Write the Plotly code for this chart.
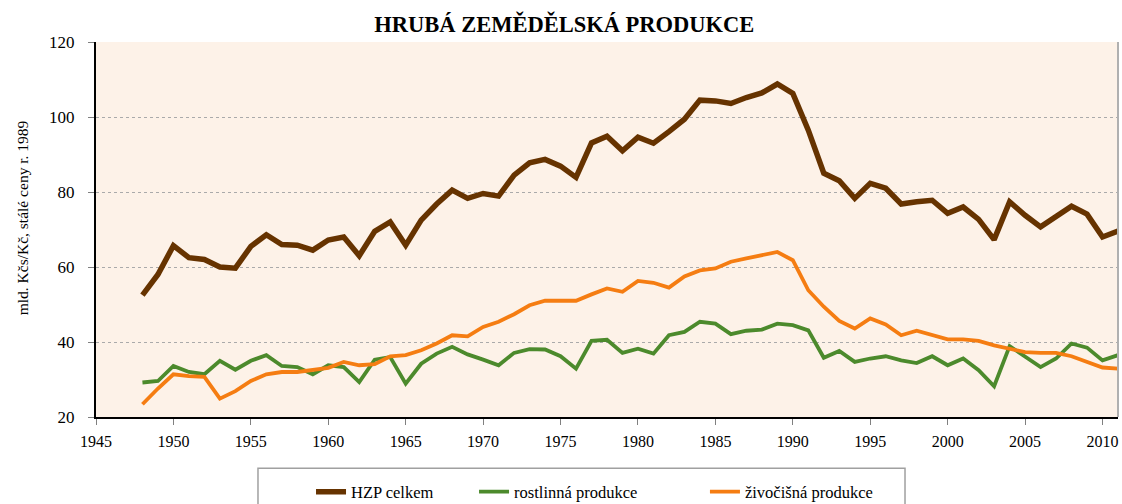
import plotly.graph_objects as go

years = list(range(1948, 2012))

hzp_celkem = [52.5, 58.0, 65.7, 62.5, 62.0, 60.0, 59.7, 65.5, 68.6, 66.0, 65.8, 64.5,
              67.2, 68.0, 63.0, 69.5, 72.0, 65.8, 72.5, 76.8, 80.5, 78.3, 79.6, 78.9,
              84.5, 87.8, 88.7, 86.9, 83.9, 93.1, 94.9, 91.0, 94.6, 93.0, 96.1, 99.4,
              104.5, 104.3, 103.6, 105.2, 106.4, 108.8, 106.3, 96.5, 85.0, 83.0, 78.3, 82.3,
              81.0, 76.8, 77.4, 77.8, 74.3, 76.0, 72.7, 67.3, 77.4, 73.8, 70.7, 73.4,
              76.2, 74.1, 68.0, 69.6]

rostlinna = [29.2, 29.6, 33.6, 32.0, 31.4, 35.0, 32.6, 35.0, 36.5, 33.6, 33.3, 31.4,
             33.8, 33.3, 29.3, 35.3, 36.0, 28.9, 34.2, 36.9, 38.7, 36.7, 35.3, 33.8,
             37.1, 38.1, 38.0, 36.2, 32.9, 40.3, 40.6, 37.1, 38.2, 36.9, 41.8, 42.7,
             45.4, 44.9, 42.1, 43.0, 43.3, 44.9, 44.5, 43.1, 35.8, 37.6, 34.7, 35.6,
             36.2, 35.1, 34.4, 36.2, 33.8, 35.6, 32.5, 28.2, 38.9, 36.2, 33.3, 35.6,
             39.6, 38.5, 35.1, 36.5]

zivocisna = [23.4, 27.6, 31.4, 30.9, 30.7, 24.9, 26.9, 29.6, 31.4, 32.0, 32.0, 32.6,
             33.1, 34.7, 33.8, 34.1, 36.2, 36.5, 37.8, 39.6, 41.8, 41.5, 44.0, 45.4,
             47.4, 49.8, 51.0, 51.0, 51.0, 52.7, 54.3, 53.4, 56.3, 55.8, 54.5, 57.5,
             59.1, 59.6, 61.4, 62.3, 63.2, 64.0, 61.8, 53.8, 49.4, 45.6, 43.6, 46.3,
             44.7, 41.8, 43.0, 41.8, 40.7, 40.7, 40.3, 39.1, 38.3, 37.3, 37.1, 37.1,
             36.2, 34.7, 33.2, 32.9]

series_names = ["HZP celkem", "rostlinná produkce", "živočišná produkce"]
colors = ["#663300", "#4c8a2c", "#f57d12"]
widths = [5.5, 3.8, 3.8]
legend_ids = ["legend", "legend2", "legend3"]
legend_x = [0.2772, 0.4225, 0.6283]

font_family = "Liberation Serif"

fig = go.Figure()
for name, vals, c, w, lg in zip(series_names, [hzp_celkem, rostlinna, zivocisna],
                                colors, widths, legend_ids):
    fig.add_trace(go.Scatter(x=years, y=vals, mode="lines", name=name,
                             line=dict(color=c, width=w), legend=lg))

legend_common = dict(orientation="h", xref="container", yref="container",
                     y=0.024, yanchor="middle", xanchor="left",
                     bgcolor="rgba(0,0,0,0)", borderwidth=0,
                     font=dict(family=font_family, size=16.5, color="#000000"))

fig.update_layout(
    width=1122, height=504,
    margin=dict(l=96, r=4, t=42, b=87.3, autoexpand=False),
    paper_bgcolor="white",
    plot_bgcolor="#fdf2e8",
    font=dict(family=font_family, size=16, color="#000000"),
    title=dict(text="<b>HRUBÁ ZEMĚDĚLSKÁ PRODUKCE</b>", x=0.503, xanchor="center",
               y=0.952, yanchor="middle", font=dict(family=font_family, size=22.5, color="#000000")),
    showlegend=True,
    legend=dict(x=legend_x[0], **legend_common),
    legend2=dict(x=legend_x[1], **legend_common),
    legend3=dict(x=legend_x[2], **legend_common),
    xaxis=dict(range=[1945, 2011], tickmode="linear", tick0=1945, dtick=5,
               showgrid=False, showline=True, linecolor="#000000", linewidth=2,
               ticks="outside", ticklen=6, tickcolor="#808080", zeroline=False,
               ticklabelstandoff=3,
               tickfont=dict(family=font_family, size=16)),
    yaxis=dict(range=[20, 120], tickmode="linear", tick0=20, dtick=20,
               showgrid=True, gridcolor="#aaaaaa", griddash="dot", gridwidth=1,
               showline=True, linecolor="#000000", linewidth=2,
               ticks="outside", ticklen=6, tickcolor="#808080", zeroline=False,
               ticklabelstandoff=10,
               tickfont=dict(family=font_family, size=17)),
    annotations=[dict(text="mld. Kčs/Kč, stálé ceny r. 1989", textangle=-90,
                      xref="paper", yref="paper", x=-0.0724, y=0.53,
                      xanchor="center", yanchor="middle", showarrow=False,
                      font=dict(family=font_family, size=15.5, color="#000000"))],
)

# right border of plot area
fig.add_shape(type="line", xref="paper", yref="paper", x0=1, x1=1, y0=0, y1=1,
              line=dict(color="#b0b0b0", width=2))
# legend frame (continues past the bottom edge)
fig.add_shape(type="rect", xref="paper", yref="paper", x0=0.1585, x1=0.7916,
              y0=-0.35, y1=-0.1369, line=dict(color="#a0a0a0", width=1.5),
              fillcolor="rgba(0,0,0,0)", layer="above")

fig.write_html(
    "out.html",
    config={"displayModeBar": False},
    post_script="document.body.style.margin='0';document.body.style.overflow='hidden';",
)
